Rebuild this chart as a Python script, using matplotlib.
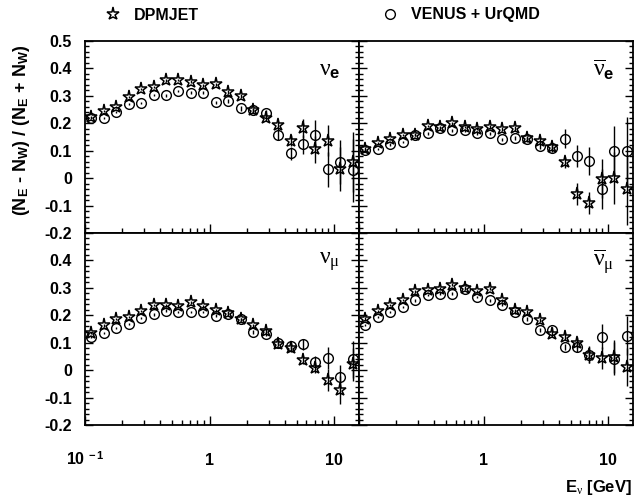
import matplotlib
matplotlib.use("Agg")
import matplotlib.pyplot as plt
from matplotlib.lines import Line2D
from matplotlib.ticker import FixedLocator, LogLocator, MultipleLocator, NullFormatter

# bin centres in GeV
energy = [0.112, 0.141, 0.178, 0.224, 0.282, 0.355, 0.447, 0.562, 0.708, 0.891, 1.12,
          1.41, 1.78, 2.24, 2.82, 3.55, 4.47, 5.62, 7.08, 8.91, 11.2, 14.1]

# nu_e
nue_dpm = [0.224, 0.245, 0.260, 0.296, 0.324, 0.332, 0.356, 0.358, 0.352, 0.339, 0.342,
           0.315, 0.299, 0.248, 0.219, 0.192, 0.137, 0.181, 0.105, 0.137, 0.032, 0.060]
nue_dpm_err = [0.004, 0.004, 0.004, 0.004, 0.004, 0.005, 0.005, 0.005, 0.005, 0.006, 0.006,
               0.007, 0.008, 0.009, 0.011, 0.015, 0.02, 0.035, 0.05, 0.055, 0.08, 0.11]
nue_ven = [0.220, 0.220, 0.241, 0.269, 0.273, 0.303, 0.302, 0.318, 0.311, 0.311, 0.277,
           0.281, 0.254, 0.247, 0.236, 0.159, 0.090, 0.123, 0.159, 0.032, 0.060, 0.028]
nue_ven_err = [0.004, 0.004, 0.004, 0.004, 0.004, 0.005, 0.005, 0.005, 0.005, 0.006, 0.006,
               0.007, 0.008, 0.009, 0.011, 0.02, 0.025, 0.036, 0.052, 0.063, 0.08, 0.115]

# anti nu_e
anue_dpm = [0.108, 0.127, 0.144, 0.156, 0.159, 0.190, 0.186, 0.200, 0.186, 0.180, 0.187,
            0.180, 0.181, 0.145, 0.137, 0.113, 0.058, -0.057, -0.090, -0.002, -0.001, -0.041]
anue_dpm_err = [0.004, 0.004, 0.004, 0.004, 0.004, 0.005, 0.005, 0.005, 0.005, 0.006, 0.006,
                0.007, 0.008, 0.01, 0.012, 0.015, 0.02, 0.04, 0.04, 0.07, 0.095, 0.13]
anue_ven = [0.102, 0.105, 0.123, 0.131, 0.156, 0.163, 0.181, 0.175, 0.175, 0.165, 0.163,
            0.141, 0.147, 0.141, 0.117, 0.111, 0.144, 0.080, 0.062, -0.041, 0.099, 0.099]
anue_ven_err = [0.004, 0.004, 0.004, 0.004, 0.004, 0.005, 0.005, 0.005, 0.005, 0.006, 0.006,
                0.007, 0.008, 0.01, 0.012, 0.015, 0.035, 0.04, 0.05, 0.073, 0.09, 0.125]

# nu_mu
numu_dpm = [0.136, 0.163, 0.185, 0.193, 0.217, 0.237, 0.237, 0.235, 0.247, 0.233, 0.218,
            0.209, 0.185, 0.163, 0.142, 0.097, 0.079, 0.037, 0.009, -0.037, -0.072, 0.021]
numu_dpm_err = [0.004, 0.004, 0.004, 0.004, 0.004, 0.004, 0.005, 0.005, 0.005, 0.005, 0.005,
                0.006, 0.006, 0.007, 0.008, 0.01, 0.012, 0.015, 0.02, 0.04, 0.05, 0.06]
numu_ven = [0.120, 0.134, 0.154, 0.169, 0.191, 0.203, 0.217, 0.212, 0.212, 0.212, 0.199,
            0.205, 0.185, 0.140, 0.132, 0.100, 0.088, 0.094, 0.030, 0.043, -0.025, 0.039]
numu_ven_err = [0.004, 0.004, 0.004, 0.004, 0.004, 0.004, 0.005, 0.005, 0.005, 0.005, 0.005,
                0.006, 0.006, 0.007, 0.008, 0.01, 0.012, 0.02, 0.02, 0.04, 0.045, 0.067]

# anti nu_mu
anumu_dpm = [0.188, 0.217, 0.237, 0.257, 0.287, 0.293, 0.297, 0.312, 0.300, 0.287, 0.297,
             0.255, 0.218, 0.211, 0.182, 0.132, 0.122, 0.100, 0.057, 0.043, 0.049, 0.011]
anumu_dpm_err = [0.004, 0.004, 0.004, 0.004, 0.004, 0.004, 0.005, 0.005, 0.005, 0.005, 0.005,
                 0.006, 0.006, 0.007, 0.008, 0.01, 0.012, 0.02, 0.03, 0.04, 0.06, 0.07]
anumu_ven = [0.164, 0.193, 0.211, 0.229, 0.254, 0.273, 0.279, 0.279, 0.296, 0.267, 0.254,
             0.239, 0.211, 0.185, 0.146, 0.148, 0.084, 0.085, 0.055, 0.122, 0.042, 0.126]
anumu_ven_err = [0.004, 0.004, 0.004, 0.004, 0.004, 0.004, 0.005, 0.005, 0.005, 0.005, 0.005,
                 0.006, 0.006, 0.007, 0.008, 0.01, 0.012, 0.02, 0.03, 0.045, 0.06, 0.07]

panel_names = [r"$\mathrm{\nu}_{\mathbf{e}}$", r"$\overline{\mathrm{\nu}}_{\mathbf{e}}$",
               r"$\mathrm{\nu}_{\mathrm{\mu}}$", r"$\overline{\mathrm{\nu}}_{\mathrm{\mu}}$"]
y_ticks = [-0.2, -0.1, 0, 0.1, 0.2, 0.3, 0.4, 0.5]
y_labels = ["-0.2", "-0.1", "0", "0.1", "0.2", "0.3", "0.4", "0.5"]
x_ticks = [0.1, 1, 10]
x_labels = [r"10$^{\mathbf{\ -1}}$", "1", "10"]

plt.rcParams.update({
    "font.family": "Liberation Sans",
    "font.weight": "bold",
    "font.size": 11.5,
    "axes.unicode_minus": False,
    "mathtext.fontset": "custom",
    "mathtext.rm": "Liberation Serif:weight=normal:style=normal",
    "mathtext.it": "Liberation Serif:weight=normal:style=italic",
    "mathtext.bf": "Liberation Sans:weight=bold",
    "mathtext.sf": "Liberation Sans:weight=normal",
})

fig, axes = plt.subplots(2, 2, figsize=(6.34, 4.98), dpi=100)
fig.subplots_adjust(left=85 / 634, right=633 / 634, top=1 - 41 / 498, bottom=1 - 425 / 498,
                    wspace=0, hspace=0)

series = [
    (nue_dpm, nue_dpm_err, nue_ven, nue_ven_err),
    (anue_dpm, anue_dpm_err, anue_ven, anue_ven_err),
    (numu_dpm, numu_dpm_err, numu_ven, numu_ven_err),
    (anumu_dpm, anumu_dpm_err, anumu_ven, anumu_ven_err),
]

star_style = dict(fmt="*", ms=9.5, mfc="none", mec="black", mew=1.1,
                  ecolor="black", elinewidth=1.0, capsize=0)
circ_style = dict(fmt="o", ms=7, mfc="none", mec="black", mew=1.0,
                  ecolor="black", elinewidth=1.0, capsize=0)

for i, ax in enumerate(axes.flat):
    dpm, dpm_err, ven, ven_err = series[i]
    ax.errorbar(energy, ven, yerr=ven_err, **circ_style)
    ax.errorbar(energy, dpm, yerr=dpm_err, **star_style)

    ax.set_xscale("log")
    ax.set_xlim(0.1, 15.85)
    ax.set_ylim(-0.2, 0.5)
    ax.xaxis.set_major_locator(FixedLocator(x_ticks))
    ax.xaxis.set_minor_locator(LogLocator(base=10, subs=range(2, 10), numticks=20))
    ax.xaxis.set_minor_formatter(NullFormatter())
    ax.yaxis.set_minor_locator(MultipleLocator(0.02))
    for s in ax.spines.values():
        s.set_linewidth(1.3)

    ax.tick_params(axis="y", which="both", direction="in", left=True, right=True, pad=9.4)
    ax.tick_params(axis="y", which="major", length=5.8, width=1)
    ax.tick_params(axis="y", which="minor", length=3, width=1)
    ax.tick_params(axis="x", which="both", direction="in", top=False, pad=28.8)
    ax.tick_params(axis="x", which="major", length=6.5, width=1)
    ax.tick_params(axis="x", which="minor", length=3.5, width=1)

    row, col = divmod(i, 2)
    if col == 0:
        labs = y_labels if row == 0 else y_labels[:-1] + [""]
        ax.set_yticks(y_ticks, labs)
    else:
        ax.set_yticks(y_ticks)
        ax.tick_params(axis="y", labelleft=False)
    if row == 1:
        labs = x_labels if col == 0 else [""] + x_labels[1:]
        ax.set_xticks(x_ticks, labs, va="baseline")
    else:
        ax.set_xticks(x_ticks)
        ax.tick_params(axis="x", labelbottom=False)

    ax.text(0.855, 0.85, panel_names[i], transform=ax.transAxes, fontsize=17,
            ha="left", va="center")

fig.text(22 / 634, 1 - 130 / 498,
         r"(N$_{\mathbf{E}}$ - N$_{\mathbf{W}}$) / (N$_{\mathbf{E}}$ + N$_{\mathbf{W}}$)",
         rotation=90, ha="center", va="center", fontsize=13, fontweight="bold")
fig.text(632 / 634, 1 - 492 / 498, r"E$_{\mathrm{\nu}}$ [GeV]", ha="right", va="baseline",
         fontsize=12, fontweight="bold")

h_star = Line2D([], [], ls="none", marker="*", ms=9.5, mfc="none", mec="black", mew=1.1)
h_circ = Line2D([], [], ls="none", marker="o", ms=7, mfc="none", mec="black", mew=1.0)
leg_kw = dict(loc="center left", frameon=False, borderpad=0, borderaxespad=0,
              handlelength=1.0, handletextpad=0.8, prop={"weight": "bold", "size": 11.5})
fig.legend([h_star], ["DPMJET"], bbox_to_anchor=(105 / 634, 1 - 15 / 498), **leg_kw)
fig.legend([h_circ], ["VENUS + UrQMD"], bbox_to_anchor=(382 / 634, 1 - 15 / 498), **leg_kw)

fig.savefig("out.png", dpi=100)
